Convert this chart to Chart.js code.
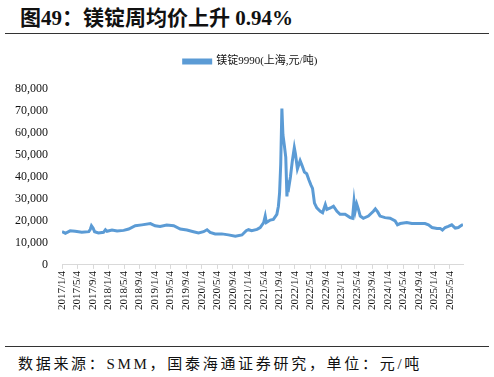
<!DOCTYPE html>
<html>
<head>
<meta charset="utf-8">
<script src="https://cdn.jsdelivr.net/npm/chart.js@4.4.1/dist/chart.umd.min.js"></script>
<style>
  html, body { margin: 0; padding: 0; background: #fff; }
  body { width: 494px; height: 377px; position: relative; overflow: hidden; }
  .title {
    position: absolute; left: 20px; top: 1px;
    font: bold 21px "Liberation Serif", "Noto Sans CJK SC", serif;
    color: #111; white-space: nowrap;
  }
  .rule { position: absolute; left: 5px; width: 484px; height: 1px; background: #333; }
  .source {
    position: absolute; left: 18px; top: 352px;
    font: 15px "Liberation Serif", "Noto Sans CJK SC", serif;
    letter-spacing: 2.7px; color: #111; white-space: nowrap;
  }
  .box { position: absolute; left: 0; top: 40px; width: 494px; height: 272px; }
</style>
</head>
<body>
<div class="title">图49：镁锭周均价上升 0.94%</div>
<div class="rule" style="top:33px"></div>
<div class="box"><canvas id="mgChart"></canvas></div>
<div class="rule" style="top:346px"></div>
<div class="source">数据来源：SMM，国泰海通证券研究，单位：元/吨</div>

<script>
// 镁锭9990 上海周均价（元/吨），从图上读取的近似值
const seriesName = '镁锭9990(上海,元/吨)';

const dates = [
  '2017-01-04', '2017-01-30', '2017-03-07', '2017-04-16', '2017-06-07', '2017-07-31',
  '2017-08-13', '2017-08-22', '2017-09-04', '2017-09-16', '2017-10-16', '2017-11-25',
  '2017-12-10', '2017-12-22', '2018-01-31', '2018-03-10', '2018-05-01', '2018-06-10',
  '2018-07-31', '2018-09-22', '2018-11-28', '2019-01-04', '2019-02-13', '2019-04-04',
  '2019-05-28', '2019-07-19', '2019-09-10', '2019-10-31', '2019-12-10', '2020-01-19',
  '2020-02-16', '2020-03-10', '2020-04-19', '2020-06-10', '2020-07-31', '2020-09-25',
  '2020-11-16', '2020-12-19', '2021-01-07', '2021-01-31', '2021-03-13', '2021-04-07',
  '2021-05-04', '2021-05-16', '2021-05-25', '2021-06-10', '2021-06-25', '2021-07-19',
  '2021-08-16', '2021-08-28', '2021-09-07', '2021-09-16', '2021-09-25', '2021-10-03',
  '2021-10-13', '2021-10-25', '2021-11-04', '2021-11-10', '2021-11-19', '2021-12-01',
  '2021-12-16', '2021-12-31', '2022-01-10', '2022-01-25', '2022-02-16', '2022-03-01',
  '2022-03-19', '2022-04-07', '2022-04-25', '2022-05-10', '2022-05-22', '2022-06-07',
  '2022-06-25', '2022-07-22', '2022-08-10', '2022-08-31', '2022-09-13', '2022-10-10',
  '2022-11-04', '2022-12-01', '2022-12-25', '2023-02-04', '2023-03-13', '2023-03-31',
  '2023-04-13', '2023-04-22', '2023-05-04', '2023-05-16', '2023-05-31', '2023-06-25',
  '2023-08-04', '2023-09-13', '2023-09-28', '2023-10-16', '2023-11-04', '2023-12-13',
  '2024-01-22', '2024-03-01', '2024-03-19', '2024-04-10', '2024-05-31', '2024-07-10',
  '2024-08-31', '2024-10-22', '2024-11-19', '2024-12-16', '2025-01-25', '2025-02-19',
  '2025-03-07', '2025-03-28', '2025-04-22', '2025-05-19', '2025-06-16', '2025-07-10',
  '2025-08-07', '2025-08-16'
];

const prices = [
  15100, 14400, 15500, 15250, 14800, 15100,
  16200, 17800, 16800, 15100, 14500, 14800,
  16000, 15300, 15850, 15400, 15700, 16300,
  17800, 18200, 18800, 17800, 17500, 18100,
  17800, 16300, 15850, 15100, 14500, 15100,
  16000, 14800, 14100, 14100, 13650, 13000,
  13600, 15550, 16000, 15550, 16150, 17000,
  19250, 22200, 19250, 19800, 20400, 20700,
  23000, 26700, 32600, 45900, 71100, 59200,
  54800, 48900, 31100, 37000, 35500, 40000,
  47400, 53300, 50400, 43700, 47400, 45200,
  42200, 41500, 38500, 36300, 34800, 28100,
  25900, 24400, 23700, 27400, 25200, 25900,
  26700, 24400, 23000, 23000, 21500, 21200,
  28900, 24400, 27700, 25500, 22200, 21200,
  22200, 24400, 25500, 24100, 22200, 21500,
  21200, 20000, 18200, 18800, 19250, 18800,
  18800, 18800, 18200, 17000, 16600, 16600,
  15850, 17000, 17500, 18200, 16750, 17000,
  18100, 18300
];

// 横轴标签：2017/1/4 起每 4 个月一个
const tickLabels = [
  '2017/1/4', '2017/5/4', '2017/9/4', '2018/1/4', '2018/5/4', '2018/9/4',
  '2019/1/4', '2019/5/4', '2019/9/4', '2020/1/4', '2020/5/4', '2020/9/4',
  '2021/1/4', '2021/5/4', '2021/9/4', '2022/1/4', '2022/5/4', '2022/9/4',
  '2023/1/4', '2023/5/4', '2023/9/4', '2024/1/4', '2024/5/4', '2024/9/4',
  '2025/1/4', '2025/5/4'
];

const yTicks = [0, 10000, 20000, 30000, 40000, 50000, 60000, 70000, 80000];

// 日期 -> 距 2017/1/4 的月数
function monthIndex(s) {
  const [y, m, d] = s.split(/[-\/]/).map(Number);
  return (y - 2017) * 12 + (m - 1) + (d - 4) / 30;
}

const points = dates.map((d, i) => ({ x: monthIndex(d), y: prices[i] }));
const tickPos = tickLabels.map(monthIndex);

const fontFamily = '"Liberation Serif", "Noto Sans CJK SC", serif';
const blue = '#5B9BD5';

// 图例：下方多留点空，整体右移一点
const legendTweak = {
  id: 'legendTweak',
  beforeInit(chart) {
    const fit = chart.legend.fit;
    chart.legend.fit = function () {
      fit.call(this);
      this.height += 12;
    };
  },
  afterLayout(chart) {
    chart.legend.left += 16;
    chart.legend.right += 16;
  }
};

new Chart(document.getElementById('mgChart'), {
  type: 'line',
  data: {
    datasets: [{
      label: seriesName,
      data: points,
      borderColor: blue,
      backgroundColor: blue,
      borderWidth: 3,
      pointRadius: 0,
      tension: 0
    }]
  },
  options: {
    responsive: true,
    maintainAspectRatio: false,
    animation: false,
    layout: { padding: { left: 6, right: 31, top: 12, bottom: 0 } },
    plugins: {
      legend: {
        position: 'top',
        labels: { boxWidth: 27, boxHeight: 3, padding: 4, color: '#111', font: { family: fontFamily, size: 11 } }
      },
      tooltip: { enabled: false }
    },
    scales: {
      x: {
        type: 'linear',
        min: 0,
        max: monthIndex('2025-08-16'),
        afterBuildTicks: (scale) => {
          scale.ticks = tickPos.map(v => ({ value: v }));
        },
        ticks: {
          autoSkip: false,
          minRotation: 90,
          maxRotation: 90,
          padding: 2,
          color: '#111',
          font: { family: fontFamily, size: 11 },
          callback: (value) => {
            const i = tickPos.findIndex(p => Math.abs(p - value) < 1e-6);
            return i >= 0 ? tickLabels[i] : '';
          }
        },
        grid: { drawOnChartArea: false, drawTicks: true, tickLength: 4, color: '#d9d9d9' },
        border: { display: true, color: '#d9d9d9', width: 1 }
      },
      y: {
        min: 0,
        max: 80000,
        afterBuildTicks: (scale) => {
          scale.ticks = yTicks.map(v => ({ value: v }));
        },
        afterFit: (scale) => { scale.width = 56; },
        ticks: {
          padding: 14,
          color: '#111',
          font: { family: fontFamily, size: 12 },
          callback: (value) => value.toLocaleString('en-US')
        },
        grid: { display: false, drawTicks: false },
        border: { display: false }
      }
    }
  },
  plugins: [legendTweak]
});
</script>
</body>
</html>
